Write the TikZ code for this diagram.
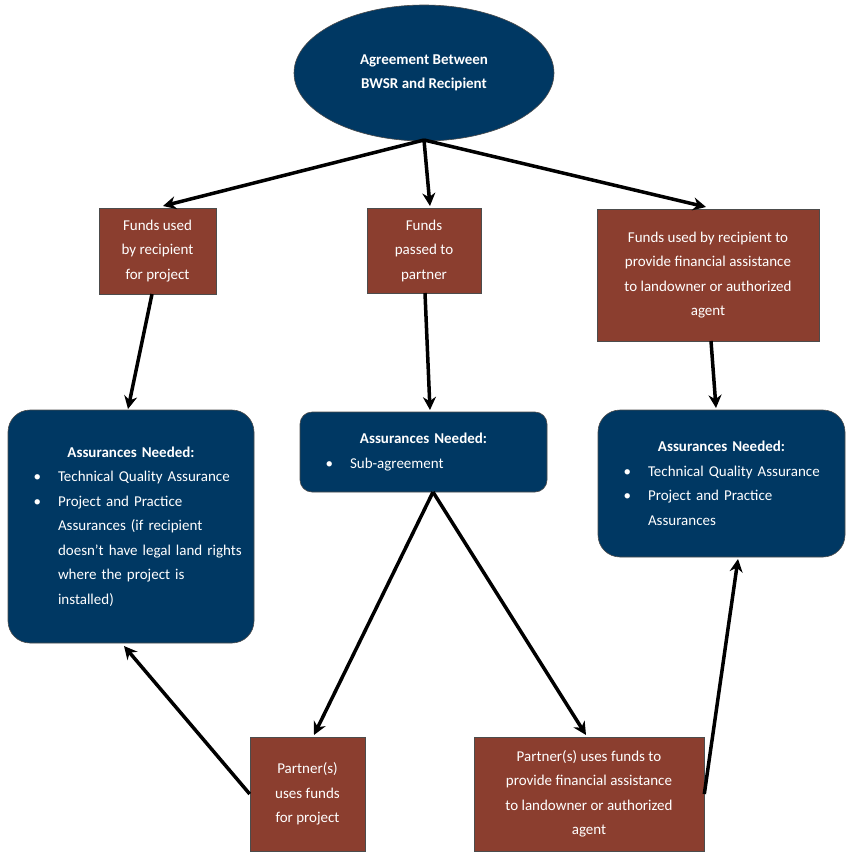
\documentclass[tikz,border=0pt]{standalone}
\usepackage{fontspec}
\setmainfont{Carlito}
\usepackage{enumitem}
\usetikzlibrary{shapes.geometric,arrows.meta}
\definecolor{navy}{RGB}{0,56,99}
\definecolor{rust}{RGB}{139,62,47}
\tikzset{
 brownbox/.style={draw=black!70,line width=0.6pt,fill=rust,text=white,align=center,inner sep=0pt},
 bluebox/.style={draw=black!70,line width=0.6pt,fill=navy,text=white,rounded corners=22pt,inner sep=0pt},
 arr/.style={line width=3.5pt,-{Stealth[length=13pt,width=13pt]}},
}
\newcommand{\bullist}[1]{\begin{itemize}[leftmargin=40pt,labelsep=17pt,itemsep=0pt,topsep=0pt,parsep=0pt,partopsep=0pt]#1\end{itemize}}
\begin{document}
\begin{tikzpicture}[x=1pt,y=-1pt,font=\fontsize{15}{24.5}\selectfont]
\useasboundingbox[fill=white] (0,0) rectangle (853,862);
\node[ellipse,draw=black!70,line width=0.6pt,fill=navy,text=white,minimum width=260pt,minimum height=136pt,align=center,font=\fontsize{15}{24}\selectfont\bfseries] (ag) at (424,73) {Agreement Between\\BWSR and Recipient};
\node[brownbox,minimum width=117pt,minimum height=86pt] (f1) at (157.5,251) {Funds used\\by recipient\\for project};
\node[brownbox,minimum width=114pt,minimum height=85pt] (f2) at (424,250.5) {Funds\\passed to\\partner};
\node[brownbox,minimum width=222pt,minimum height=132pt] (f3) at (708,275) {Funds used by recipient to\\provide financial assistance\\to landowner or authorized\\agent};
\node[bluebox,minimum width=246pt,minimum height=233pt,text width=226pt] (b1) at (131,526.5) {\centering\textbf{Assurances Needed:}\par\raggedright\bullist{\item Technical Quality Assurance \item Project and Practice Assurances (if recipient doesn’t have legal land rights where the project is installed)}};
\node[bluebox,minimum width=247pt,minimum height=80pt,text width=227pt,rounded corners=12pt] (b2) at (423.5,452) {\centering\textbf{Assurances Needed:}\par\raggedright\bullist{\item Sub-agreement}};
\node[bluebox,minimum width=247pt,minimum height=147pt,text width=227pt] (b3) at (721.5,483.5) {\centering\textbf{Assurances Needed:}\par\raggedright\bullist{\item Technical Quality Assurance \item Project and Practice Assurances}};
\node[brownbox,minimum width=115pt,minimum height=114pt] (p1) at (307.5,794) {Partner(s)\\uses funds\\for project};
\node[brownbox,minimum width=230pt,minimum height=114pt] (p2) at (589,794) {Partner(s) uses funds to\\provide financial assistance\\to landowner or authorized\\agent};
\coordinate (agb) at (424,140);
\coordinate (f1s) at (152,294);
\coordinate (f2s) at (425,293);
\coordinate (f3s) at (711,341);
\coordinate (b2s) at (433,492);
\draw[arr] (agb) -- (163,206);
\draw[arr] (agb) -- (430,206);
\draw[arr] (agb) -- (706,207);
\draw[arr] (f1s) -- (128,409);
\draw[arr] (f2s) -- (430,410);
\draw[arr] (f3s) -- (716,408);
\draw[arr] (b2s) -- (314,735);
\draw[arr] (b2s) -- (586,735);
\draw[arr] (p1.west) -- (124,646);
\draw[arr] (p2.east) -- (738,559);
\end{tikzpicture}
\end{document}
